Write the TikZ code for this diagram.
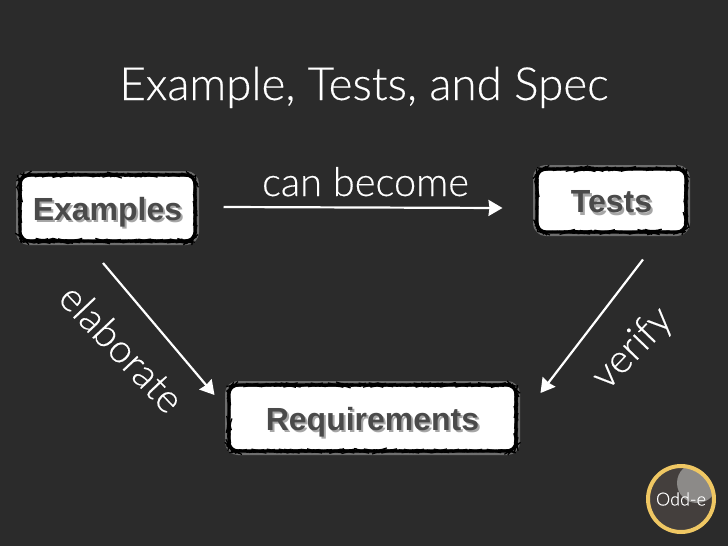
\documentclass[tikz,border=0pt]{standalone}
\usepackage{fontspec}
\setmainfont{Liberation Sans}
\newfontfamily\lightface[FakeBold=0.35]{Lato Light}
\usetikzlibrary{decorations.pathmorphing,arrows.meta}
\definecolor{bgdark}{HTML}{2B2B2B}
\definecolor{boxtext}{HTML}{4A4A4A}
\definecolor{halo}{HTML}{6E6E6E}
\definecolor{ringgold}{HTML}{EFC763}
\definecolor{logodark}{HTML}{443F3D}
\definecolor{logolight}{HTML}{8C8A88}
\newcommand{\softboxtext}[1]{\smash{\raisebox{-12pt}{\rlap{\hspace{2pt}\raisebox{-2.5pt}{\color{black!35}#1}}{\color{boxtext}#1}}}}
\tikzset{
  stickerbox/.style={fill=white,draw=black,line width=3.2pt,rounded corners=9pt,inner sep=0pt,outer sep=0pt,
    font=\fontsize{32}{36}\selectfont\bfseries,
    preaction={draw=halo,line width=8pt},
    postaction={draw=black,line width=1.2pt,decorate,decoration={random steps,segment length=2.5pt,amplitude=.5pt}}},
  wordlabel/.style={font=\lightface\fontsize{39.8}{42}\selectfont,text=white,inner sep=0pt},
  flowarrow/.style={draw=white,line width=2.2pt,-{Stealth[length=14pt,width=16pt,inset=1pt]}}
}
\begin{document}
\begin{tikzpicture}[x=1pt,y=-1pt]
\useasboundingbox (0,0) rectangle (728,546);
\fill[bgdark] (0,0) rectangle (728,546);
\node[wordlabel,anchor=base,font=\lightface\fontsize{45.7}{48}\selectfont] (title) at (364,100) {Example, Tests, and Spec};
\node[stickerbox,minimum width=175pt,minimum height=66pt] (examples) at (107.5,208) {\softboxtext{Examples}};
\node[stickerbox,minimum width=149pt,minimum height=63pt] (tests) at (611.5,200.5) {\softboxtext{Tests}};
\node[stickerbox,minimum width=287pt,minimum height=66pt] (requirements) at (372.5,418) {\softboxtext{Requirements}};
\node[wordlabel,anchor=base] (canbecome) at (365.5,196) {can become};
\node[wordlabel,rotate=-46.5] (elaborate) at (122,348) {elaborate};
\node[wordlabel,rotate=46] (verify) at (633,349) {verify};
\draw[flowarrow] ([xshift=28.5pt,yshift=1pt]examples.east) -- ([xshift=-34.5pt,yshift=-7.5pt]tests.west);
\draw[flowarrow] ([xshift=-4.5pt,yshift=-22pt]examples.south) -- ([xshift=-14.5pt,yshift=23pt]requirements.west);
\draw[flowarrow] ([xshift=31.5pt,yshift=-27.5pt]tests.south) -- ([xshift=24.5pt,yshift=25pt]requirements.east);
\node[circle,draw=ringgold,line width=4pt,fill=logodark,minimum size=66pt,inner sep=0pt,outer sep=0pt,
  path picture={\fill[logolight] (16,-16) circle[radius=20pt];}] (logo) at (681,499) {};
\node[inner sep=0pt,text=white,font=\lightface\fontsize{18}{20}\selectfont] (logotext) at (logo.center) {Odd-e};
\end{tikzpicture}
\end{document}
